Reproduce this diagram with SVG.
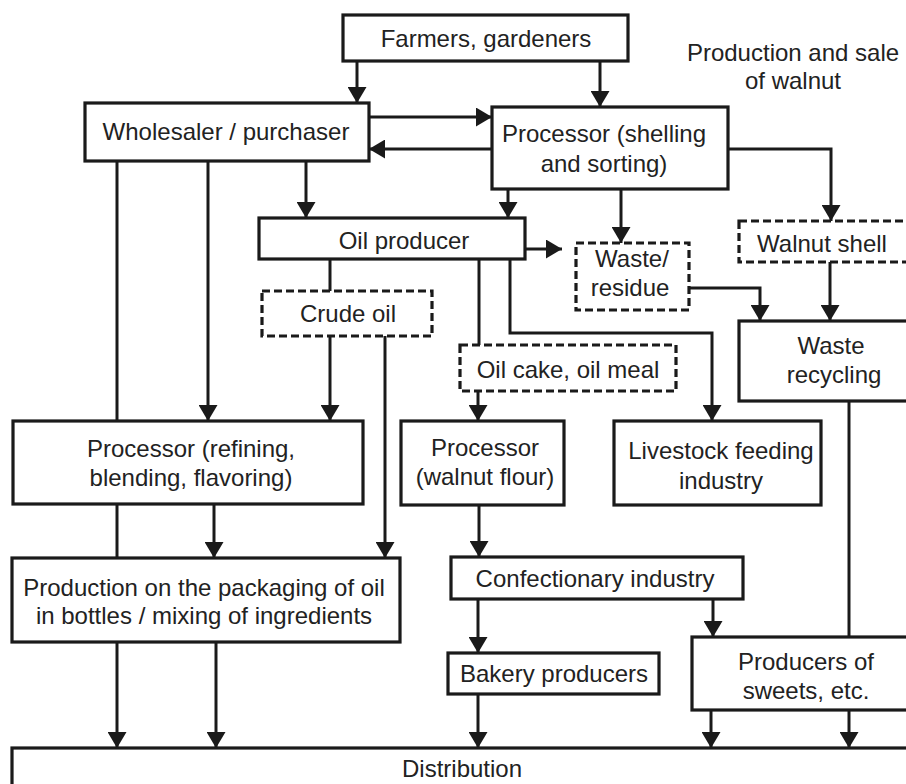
<svg xmlns="http://www.w3.org/2000/svg" width="906" height="784" viewBox="0 0 906 784">
<style>
.box{fill:#fff;stroke:#1a1a1a;stroke-width:3.2}
.dash{fill:#fff;stroke:#1a1a1a;stroke-width:3.2;stroke-dasharray:8 4}
.t{font-family:"Liberation Sans",Arial,sans-serif;font-size:24px;fill:#222;text-anchor:middle}
.c{fill:none;stroke:#1a1a1a;stroke-width:3}
.a{marker-end:url(#ah)}
</style>
<defs>
<marker id="ah" markerUnits="userSpaceOnUse" markerWidth="16" markerHeight="19" viewBox="0 0 16 19" refX="16" refY="9.5" orient="auto">
<path d="M0,0 L16,9.5 L0,19 Z" fill="#1a1a1a"/>
</marker>
</defs>
<rect width="906" height="784" fill="#fff"/>
<g id="connectors">
<path class="c a" d="M357,61 V103"/>
<path class="c a" d="M600,61 V107"/>
<path class="c a" d="M369,117 H492"/>
<path class="c a" d="M492,149 H369"/>
<path class="c" d="M117,161 V421"/>
<path class="c a" d="M208,161 V421"/>
<path class="c a" d="M306,161 V218"/>
<path class="c a" d="M508,189 V218"/>
<path class="c a" d="M621,189 V243"/>
<path class="c a" d="M728,149 H831 V221"/>
<path class="c a" d="M525,249 H562"/>
<path class="c a" d="M688,288 H760 V321"/>
<path class="c a" d="M830,262 V321"/>
<path class="c" d="M330,259 V291"/>
<path class="c a" d="M330,336 V421"/>
<path class="c a" d="M385,336 V558"/>
<path class="c" d="M479,259 V345"/>
<path class="c a" d="M478,391 V421"/>
<path class="c a" d="M510,259 V333 H712 V421"/>
<path class="c" d="M849,401 V637"/>
<path class="c" d="M117,504 V558"/>
<path class="c a" d="M214,504 V558"/>
<path class="c a" d="M479,505 V557"/>
<path class="c a" d="M478,599 V653"/>
<path class="c a" d="M713,599 V637"/>
<path class="c a" d="M117,642 V748"/>
<path class="c a" d="M216,642 V748"/>
<path class="c a" d="M478,694 V748"/>
<path class="c a" d="M711,710 V748"/>
<path class="c a" d="M849,710 V748"/>
</g>
<g id="farmers"><rect class="box" x="343" y="15" width="285" height="46"/><text class="t" x="486" y="47">Farmers, gardeners</text></g>
<g id="title"><text class="t" x="793" y="61">Production and sale</text><text class="t" x="793" y="89">of walnut</text></g>
<g id="wholesaler"><rect class="box" x="85" y="103" width="284" height="58"/><text class="t" x="226" y="140">Wholesaler / purchaser</text></g>
<g id="processor-shelling"><rect class="box" x="492" y="107" width="236" height="82"/><text class="t" x="604" y="142">Processor (shelling</text><text class="t" x="604" y="172">and sorting)</text></g>
<g id="oil-producer"><rect class="box" x="259" y="218" width="266" height="41"/><text class="t" x="404" y="249">Oil producer</text></g>
<g id="waste-residue"><rect class="dash" x="576" y="243" width="113" height="67"/><text class="t" x="632" y="267">Waste/</text><text class="t" x="630" y="296">residue</text></g>
<g id="walnut-shell"><rect class="dash" x="739" y="221" width="185" height="41"/><text class="t" x="822" y="252">Walnut shell</text></g>
<g id="waste-recycling"><rect class="box" x="739" y="321" width="185" height="80"/><text class="t" x="831" y="354">Waste</text><text class="t" x="834" y="383">recycling</text></g>
<g id="crude-oil"><rect class="dash" x="262" y="291" width="170" height="45"/><text class="t" x="348" y="322">Crude oil</text></g>
<g id="oil-cake"><rect class="dash" x="460" y="345" width="216" height="46"/><text class="t" x="568" y="378">Oil cake, oil meal</text></g>
<g id="processor-refining"><rect class="box" x="13" y="421" width="350" height="83"/><text class="t" x="191" y="457">Processor (refining,</text><text class="t" x="191" y="486">blending, flavoring)</text></g>
<g id="processor-flour"><rect class="box" x="401" y="421" width="163" height="84"/><text class="t" x="485" y="456">Processor</text><text class="t" x="485" y="485">(walnut flour)</text></g>
<g id="livestock"><rect class="box" x="614" y="421" width="207" height="84"/><text class="t" x="721" y="459">Livestock feeding</text><text class="t" x="721" y="489">industry</text></g>
<g id="packaging"><rect class="box" x="12" y="558" width="388" height="84"/><text class="t" x="204" y="596">Production on the packaging of oil</text><text class="t" x="204" y="624">in bottles / mixing of ingredients</text></g>
<g id="confectionary"><rect class="box" x="451" y="557" width="292" height="42"/><text class="t" x="595" y="587">Confectionary industry</text></g>
<g id="bakery"><rect class="box" x="448" y="653" width="211" height="41"/><text class="t" x="554" y="682">Bakery producers</text></g>
<g id="sweets"><rect class="box" x="692" y="637" width="232" height="73"/><text class="t" x="806" y="670">Producers of</text><text class="t" x="806" y="699">sweets, etc.</text></g>
<g id="distribution"><rect class="box" x="12" y="748" width="912" height="60"/><text class="t" x="462" y="777">Distribution</text></g>
</svg>
